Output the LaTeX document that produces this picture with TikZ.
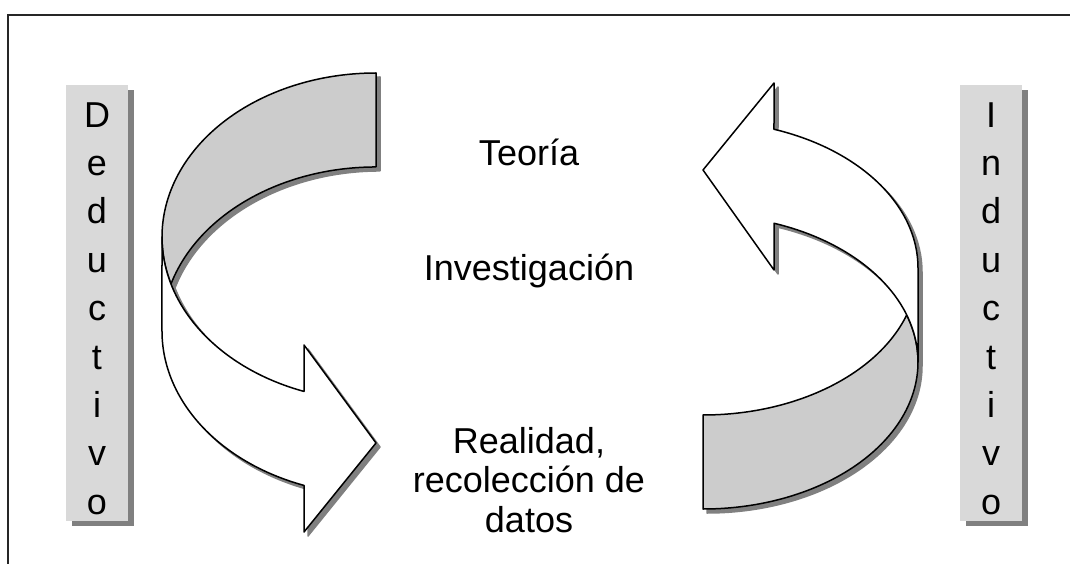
\documentclass[tikz,border=0pt]{standalone}
\usepackage{fontspec}
\setmainfont{Liberation Sans}
\usetikzlibrary{shadows}
\definecolor{boxgray}{HTML}{D9D9D9}
\definecolor{bandgray}{HTML}{CCCCCC}
\definecolor{shadowgray}{HTML}{808080}
\tikzset{
  leftbackpath/.style={insert path={(376,490) arc[start angle=90, end angle=196.65, x radius=214pt, y radius=164pt] arc[start angle=163.35, end angle=90, x radius=214pt, y radius=164pt] -- cycle}},
  leftfrontpath/.style={insert path={(162,326) arc[start angle=180, end angle=250.34, x radius=214pt, y radius=164pt] -- (304,218) -- (376,120) -- (304,31) -- (304,77.6) arc[start angle=250.34, end angle=180, x radius=214pt, y radius=164pt] -- cycle}},
  rightbackpath/.style={insert path={(703,54) arc[start angle=270, end angle=378.65, x radius=215pt, y radius=147pt] arc[start angle=-18.65, end angle=-90, x radius=215pt, y radius=147pt] -- cycle}},
  rightfrontpath/.style={insert path={(918,295) arc[start angle=0, end angle=70.72, x radius=215pt, y radius=147pt] -- (774,480) -- (703,393) -- (774,293) -- (774,339.75) arc[start angle=70.72, end angle=0, x radius=215pt, y radius=147pt] -- cycle}}
}
\begin{document}
\begin{tikzpicture}[x=1pt,y=1pt,
  frameline/.style={line width=2pt, black!85},
  sidebox/.style={fill=boxgray, minimum width=62pt, minimum height=436pt, inner sep=0pt,
    drop shadow={shadow xshift=6pt, shadow yshift=-5pt, opacity=1, fill=shadowgray}},
  sideletters/.style={font=\fontsize{36}{48.4}\selectfont, align=center, inner sep=0pt, anchor=north},
  centerlabel/.style={font=\fontsize{36}{39.5}\selectfont, align=center, inner sep=0pt},
  backface/.style={fill=bandgray, draw=black, line width=1.5pt, line join=round},
  frontface/.style={fill=white, draw=black, line width=1.5pt, line join=round},
  shadowface/.style={fill=shadowgray, draw=shadowgray, line width=1.5pt, line join=round}
]
\useasboundingbox (0,0) rectangle (1070,563);
\fill[white] (0,0) rectangle (1070,563);
% frame
\draw[frameline] (8,-2) -- (8,548) -- (1072,548);
% side boxes
\node[sidebox] (dedbox) at (97,260) {};
\node[sideletters] (dedtext) at (97,460.8) {D\\e\\d\\u\\c\\t\\i\\v\\o};
\node[sidebox] (indbox) at (991,260) {};
\node[sideletters] (indtext) at (991,460.8) {I\\n\\d\\u\\c\\t\\i\\v\\o};
% shadows of the curved arrows
\path[shadowface, shift={(4,-4)}, leftbackpath];
\path[shadowface, shift={(4,-4)}, leftfrontpath];
\path[shadowface, shift={(4,-4)}, rightbackpath];
\path[shadowface, shift={(4,-4)}, rightfrontpath];
% curved arrows
\path[backface, leftbackpath];
\path[frontface, leftfrontpath];
\path[backface, rightbackpath];
\path[frontface, rightfrontpath];
% center labels
\node[centerlabel, anchor=base] (teoria) at (529,397) {Teoría};
\node[centerlabel, anchor=base] (invest) at (529,283) {Investigación};
\node[centerlabel, anchor=north] (realidad) at (529,135.8) {Realidad,\\recolección de\\datos};
\end{tikzpicture}
\end{document}
